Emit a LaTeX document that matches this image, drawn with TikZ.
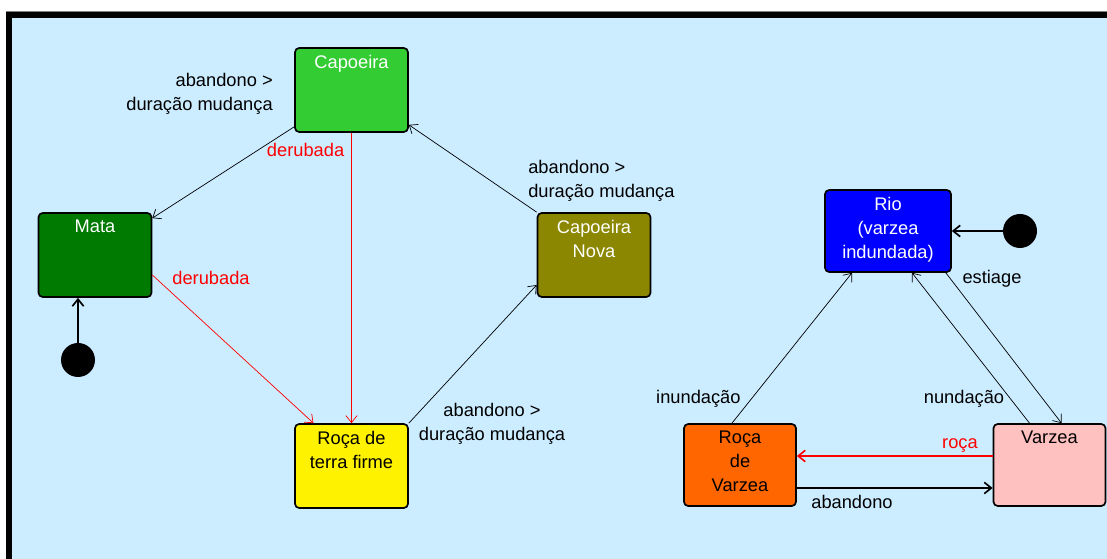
\documentclass[tikz,border=0pt]{standalone}
\usepackage{fontspec}
\setmainfont{Liberation Sans}
\usetikzlibrary{arrows.meta}
\definecolor{bgblue}{RGB}{204,236,255}
\definecolor{capgreen}{RGB}{51,204,51}
\definecolor{matagreen}{RGB}{0,122,0}
\definecolor{olive}{RGB}{139,135,0}
\definecolor{rocaorange}{RGB}{255,102,0}
\definecolor{varzeapink}{RGB}{255,192,192}
\begin{document}
\begin{tikzpicture}[font=\fontsize{13}{17}\selectfont,
  state/.style={draw, line width=1.2pt, rounded corners=3pt, minimum width=2.825cm, minimum height=2.1cm},
  txt/.style={inner sep=0pt, align=center, anchor=north, yshift=-5.5pt},
  init/.style={circle, fill=black, minimum size=0.85cm, inner sep=0pt},
  trans/.style={-{Straight Barb[length=5pt,width=8pt]}, line width=0.5pt},
  lbl/.style={inner sep=0pt, align=center}]
  % frame
  \useasboundingbox (0,0) rectangle (27.675,13.975);
  \fill[bgblue] (0.15,0) rectangle (27.675,13.675);
  \fill[black] (0.15,0) rectangle (0.3,13.675);
  \fill[black] (0.15,13.525) rectangle (27.675,13.675);
  \draw[gray, line width=0.6pt] (0.15,13.7) -- (27.675,13.7);

  % terra firme
  \node[state, fill=capgreen, label={[txt, text=white]north:Capoeira}] (capoeira) at (8.7875,11.725) {};
  \node[state, fill=matagreen, label={[txt, text=white]north:Mata}] (mata) at (2.375,7.6) {};
  \node[state, fill=olive, label={[txt, text=white]north:{Capoeira\\Nova}}] (cnova) at (14.85,7.6) {};
  \node[state, fill=yellow, label={[txt]north:{Roça de\\terra firme}}] (roca) at (8.7875,2.325) {};
  \node[init] (init1) at (1.95,4.975) {};

  % varzea
  \node[state, fill=blue, minimum width=3.15cm, minimum height=2.05cm, label={[txt, text=white]north:{Rio\\(varzea\\indundada)}}] (rio) at (22.2,8.2) {};
  \node[state, fill=rocaorange, minimum width=2.8cm, minimum height=2.05cm, label={[txt]north:{Roça\\de\\Varzea}}] (rv) at (18.5,2.35) {};
  \node[state, fill=varzeapink, minimum width=2.8cm, minimum height=2.05cm, label={[txt]north:Varzea}] (varzea) at (26.2375,2.35) {};
  \node[init] (init2) at (25.5,8.2) {};

  % transitions
  \draw[trans] (capoeira) -- (mata);
  \draw[trans, red] (capoeira) -- (roca);
  \draw[trans, red] ([yshift=-0.5cm]mata.east) -- ([xshift=-0.95cm]roca.north);
  \draw[trans] (roca.north east) -- ([yshift=-0.75cm]cnova.west);
  \draw[trans] (cnova.north west) -- ([yshift=0.2cm]capoeira.south east);
  \draw[trans, line width=1.2pt] (init1) -- (init1 |- mata.south);
  \draw[trans, line width=1.2pt] (init2) -- (rio);
  \draw[trans] ([xshift=-0.2cm]rv.north) -- ([xshift=-0.9cm]rio.south);
  \draw[trans] ([xshift=-0.5cm]varzea.north) -- ([xshift=0.6cm]rio.south);
  \draw[trans] ([xshift=-0.15cm]rio.south east) -- ([xshift=0.3cm]varzea.north);
  \draw[trans, red, line width=1.2pt] ([yshift=0.225cm]varzea.west) -- ([yshift=0.225cm]rv.east);
  \draw[trans, line width=1.2pt] ([yshift=-0.575cm]rv.east) -- ([yshift=-0.575cm]varzea.west);

  % labels
  \node[lbl, anchor=east, align=right] (ab1) at (6.825,11.625) {abandono >\\duração mudança};
  \node[lbl, text=red] (der1) at (7.64,10.225) {derubada};
  \node[lbl, text=red] (der2) at (5.275,7.025) {derubada};
  \node[lbl] (ab2) at (12.3,3.375) {abandono >\\duração mudança};
  \node[lbl, anchor=west, align=left] (ab3) at (13.2,9.45) {abandono >\\duração mudança};
  \node[lbl] (inund1) at (17.46,4.0) {inundação};
  \node[lbl] (inund2) at (24.1,4.0) {nundação};
  \node[lbl] (est) at (24.8,7.0) {estiage};
  \node[lbl, text=red] (roc) at (24.0,2.825) {roça};
  \node[lbl] (ab4) at (21.3,1.425) {abandono};
\end{tikzpicture}
\end{document}
